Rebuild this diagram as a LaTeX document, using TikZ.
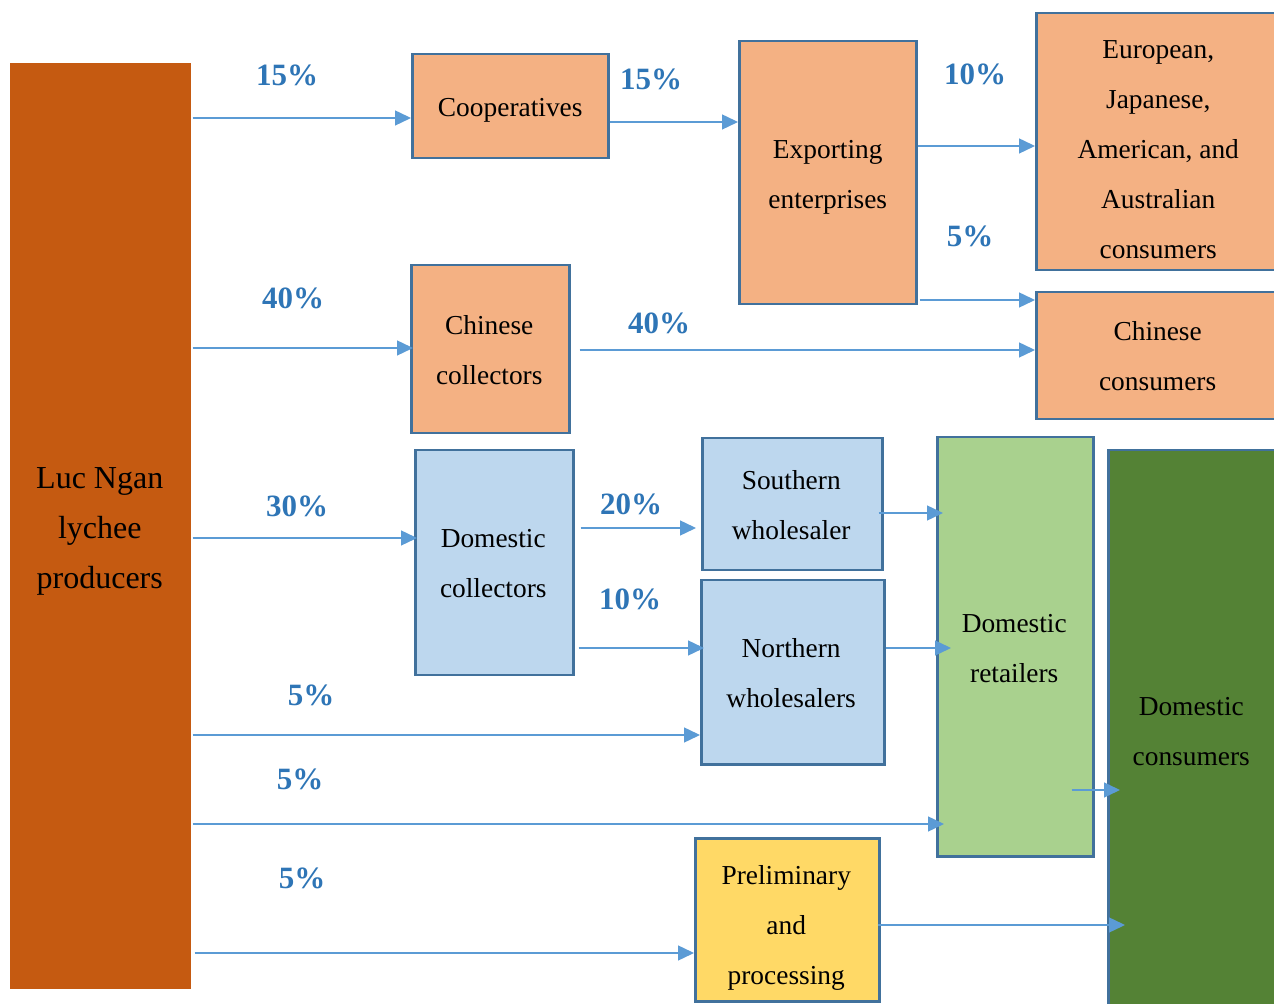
\documentclass[tikz,border=0pt]{standalone}
\usepackage{fontspec}
\setmainfont{Liberation Serif}
\usetikzlibrary{arrows.meta,calc}
\definecolor{bord}{HTML}{41719C}
\definecolor{arrc}{HTML}{5B9BD5}
\definecolor{labc}{HTML}{2E75B6}
\definecolor{orng}{HTML}{F4B183}
\definecolor{prodc}{HTML}{C55A11}
\definecolor{lblue}{HTML}{BDD7EE}
\definecolor{lgreen}{HTML}{A9D18E}
\definecolor{dgreen}{HTML}{548235}
\definecolor{yell}{HTML}{FFD966}
\tikzset{
  box/.style={draw=bord, line width=1.25pt, anchor=north west, inner sep=0pt},
  txt/.style={align=center, inner sep=0pt, font=\fontsize{13.7}{25}\selectfont, text=black},
  arr/.style={draw=arrc, line width=0.7pt, -{Triangle[length=8pt,width=7.5pt]}},
  pct/.style={text=labc, font=\fontsize{15.5}{18}\selectfont\bfseries}
}
\begin{document}
\begin{tikzpicture}[x=0.5pt,y=-0.5pt]
\useasboundingbox[fill=white] (0,0) rectangle (1274,1004);
% boxes
\node[box, draw=none, fill=prodc, minimum width=90.5pt, minimum height=463pt,
  label={[txt, font=\fontsize{16}{25}\selectfont, yshift=-2.5pt, xshift=-0.5pt]center:{Luc Ngan\\lychee\\producers}}] (prod) at (9,62) {};
\node[box, fill=orng, minimum width=98pt, minimum height=52pt,
  label={[txt, yshift=-2pt]center:{Cooperatives}}] (coop) at (411,53) {};
\node[box, fill=orng, minimum width=88.5pt, minimum height=131.5pt,
  label={[txt, yshift=-2.2pt]center:{Exporting\\enterprises}}] (export) at (738,40) {};
\node[box, fill=orng, minimum width=123pt, minimum height=128.5pt,
  label={[txt, yshift=-4pt, xshift=-0.5pt]center:{European,\\Japanese,\\American, and\\Australian\\consumers}}] (euro) at (1035,12) {};
\node[box, fill=orng, minimum width=123pt, minimum height=63.5pt,
  label={[txt, xshift=-0.8pt]center:{Chinese\\consumers}}] (chcons) at (1035,291) {};
\node[box, fill=orng, minimum width=79pt, minimum height=84pt,
  label={[txt, yshift=-0.5pt, xshift=-0.5pt]center:{Chinese\\collectors}}] (chcoll) at (410,264) {};
\node[box, fill=lblue, minimum width=79pt, minimum height=112.5pt,
  label={[txt, yshift=-0.5pt, xshift=-0.5pt]center:{Domestic\\collectors}}] (domcoll) at (414,449) {};
\node[box, fill=lblue, minimum width=90pt, minimum height=66pt,
  label={[txt, yshift=-0.5pt, xshift=-0.5pt]center:{Southern\\wholesaler}}] (south) at (701,437) {};
\node[box, fill=lblue, minimum width=91.5pt, minimum height=92pt,
  label={[txt, yshift=-0.5pt, xshift=-0.8pt]center:{Northern\\wholesalers}}] (north) at (700,579) {};
\node[box, fill=lgreen, minimum width=78pt, minimum height=209.5pt,
  label={[txt, yshift=-1pt, xshift=-0.5pt]center:{Domestic\\retailers}}] (retail) at (936,436) {};
\node[box, fill=dgreen, minimum width=88pt, minimum height=282pt,
  label={[txt, yshift=0.5pt, xshift=-2.5pt]center:{Domestic\\consumers}}] (domcons) at (1107,449) {};
\node[box, fill=yell, minimum width=92pt, minimum height=81.5pt,
  label={[txt, yshift=-4pt, xshift=-0.5pt]center:{Preliminary\\and\\processing}}] (prelim) at (694,837) {};
% connectors
\draw[arr] (prod.east |- 0,118) -- (coop.west |- 0,118);
\draw[arr] (coop.east |- 0,122) -- (export.west |- 0,122);
\draw[arr] (export.east |- 0,146) -- (euro.west |- 0,146);
\draw[arr] ($(export.east |- 0,300)+(1pt,0)$) -- (chcons.west |- 0,300);
\draw[arr] (prod.east |- 0,348) -- ($(chcoll.west |- 0,348)+(1.5pt,0)$);
\draw[arr] ($(chcoll.east |- 0,350)+(4.5pt,0)$) -- (chcons.west |- 0,350);
\draw[arr] (prod.east |- 0,538) -- ($(domcoll.west |- 0,538)+(1.5pt,0)$);
\draw[arr] ($(domcoll.east |- 0,528)+(3pt,0)$) -- ($(south.west |- 0,528)+(-2.5pt,0)$);
\draw[arr] ($(domcoll.east |- 0,648)+(2pt,0)$) -- ($(north.west |- 0,648)+(2pt,0)$);
\draw[arr] (prod.east |- 0,735) -- (north.west |- 0,735);
\draw[arr] (prod.east |- 0,824) -- ($(retail.west |- 0,824)+(4pt,0)$);
\draw[arr] ($(prod.east |- 0,953)+(1pt,0)$) -- (prelim.west |- 0,953);
\draw[arr] ($(south.east |- 0,513)+(-2.5pt,0)$) -- ($(retail.west |- 0,513)+(3.5pt,0)$);
\draw[arr] (north.east |- 0,648) -- ($(retail.west |- 0,648)+(7.5pt,0)$);
\draw[arr] ($(retail.east |- 0,790)+(-11.5pt,0)$) -- ($(domcons.west |- 0,790)+(6.5pt,0)$);
\draw[arr] ($(prelim.east |- 0,925)+(-1.5pt,0)$) -- ($(domcons.west |- 0,925)+(9pt,0)$);
% percentage labels
\node[pct] (p1) at (287,75) {15\%};
\node[pct] (p2) at (651,79) {15\%};
\node[pct] (p3) at (975,74) {10\%};
\node[pct] (p4) at (970,236) {5\%};
\node[pct] (p5) at (293,298) {40\%};
\node[pct] (p6) at (659,323) {40\%};
\node[pct] (p7) at (297,506) {30\%};
\node[pct] (p8) at (631,504) {20\%};
\node[pct] (p9) at (630,599) {10\%};
\node[pct] (p10) at (311,695) {5\%};
\node[pct] (p11) at (300,779) {5\%};
\node[pct] (p12) at (302,878) {5\%};
\end{tikzpicture}
\end{document}
